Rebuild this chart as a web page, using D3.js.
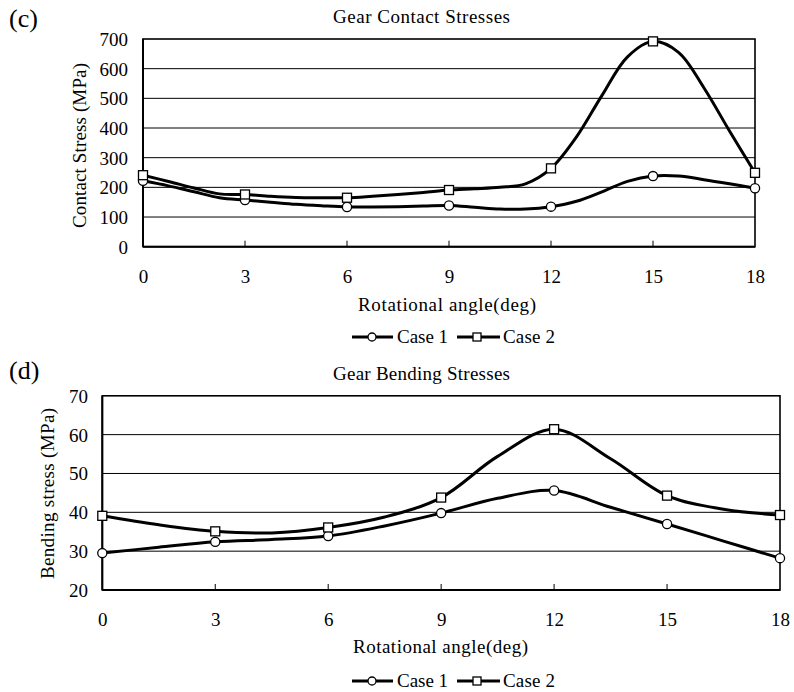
<!DOCTYPE html>
<html><head><meta charset="utf-8">
<script src="https://cdn.jsdelivr.net/npm/d3@7"></script>
<style>
html,body{margin:0;padding:0;background:#fff;}
text{font-family:"Liberation Serif","Times New Roman",serif;fill:#000;}
</style></head>
<body><svg id="c" width="794" height="692"></svg>
<script>
// ---- data ----
const fineAngles = [0,0.75,1.5,2.25,3,3.75,4.5,5.25,6,6.75,7.5,8.25,9,9.75,10.5,11.25,12,12.75,13.5,14.25,15,15.75,16.5,17.25,18];
const contactCase1 = [222,205,185,165,157,150,143,138,134,134,135,137,139,133,127,127,135,153,185,220,238,238,226,212,197];
const contactCase2 = [241,220,198,178,176,170,166,165,165,170,176,183,191,195,200,212,264,370,510,640,692,655,535,390,249];
const bendAngles = [0,1.5,3,4.5,6,7.5,9,10.5,12,13.5,15,16.5,18];
const bendCase1 = [29.5,31.0,32.4,33.0,33.9,36.5,39.8,43.6,45.6,41.3,37.0,32.6,28.2];
const bendCase2 = [39.1,36.8,35.1,34.7,36.1,38.8,43.8,54.4,61.4,53.8,44.3,40.8,39.3];
const markerAngles = [0,3,6,9,12,15,18];
const xTicks = [0,3,6,9,12,15,18];
const contactTicks = [0,100,200,300,400,500,600,700];
const bendTicks = [20,30,40,50,60,70];
const seriesNames = ["Case 1","Case 2"];

const svg = d3.select("#c");

function panel(o){
  const g = svg.append("g");
  const x = d3.scaleLinear().domain([0,18]).range([o.left,o.right]);
  const y = d3.scaleLinear().domain(o.ydom).range([o.bottom,o.top]);
  // gridlines
  g.append("g").selectAll("line").data(o.yticks.slice(1,-1)).join("line")
    .attr("x1",o.left).attr("x2",o.right).attr("y1",d=>y(d)).attr("y2",d=>y(d))
    .attr("stroke","#000").attr("stroke-width",1);
  // frame
  g.append("rect").attr("x",o.left).attr("y",o.top).attr("width",o.right-o.left).attr("height",o.bottom-o.top)
    .attr("fill","none").attr("stroke","#000").attr("stroke-width",1.6);
  g.append("line").attr("x1",o.left).attr("x2",o.left).attr("y1",o.top).attr("y2",o.bottom).attr("stroke","#000").attr("stroke-width",2);
  g.append("line").attr("x1",o.left).attr("x2",o.right).attr("y1",o.bottom).attr("y2",o.bottom).attr("stroke","#000").attr("stroke-width",2);
  // x axis labels
  const xa = d3.axisBottom(x).tickValues(xTicks).tickSize(0).tickPadding(0);
  const xg = g.append("g").attr("transform",`translate(0,${o.bottom})`).call(xa);
  xg.select(".domain").remove();
  xg.selectAll("text").attr("font-size",o.fs).attr("dy","0.34em").attr("y",o.xlabY).attr("font-family","Liberation Serif");
  // inward tick marks
  g.append("g").selectAll("line").data(xTicks.slice(1,-1)).join("line")
    .attr("x1",d=>x(d)).attr("x2",d=>x(d)).attr("y1",o.bottom).attr("y2",o.bottom-6)
    .attr("stroke","#000").attr("stroke-width",1);
  // y axis labels
  const ya = d3.axisLeft(y).tickValues(o.yticks).tickSize(0).tickPadding(0);
  const yg = g.append("g").attr("transform",`translate(${o.ylabX},0)`).call(ya);
  yg.select(".domain").remove();
  yg.selectAll("text").attr("font-size",o.fs).attr("x",0).attr("dy","0.34em").attr("font-family","Liberation Serif");
  // lines
  const line = d3.line().x(d=>x(d[0])).y(d=>y(d[1])).curve(d3.curveCatmullRom.alpha(0.5));
  o.series.forEach(s=>{
    g.append("path").datum(o.angles.map((a,i)=>[a,s[i]]))
      .attr("d",line).attr("fill","none").attr("stroke","#000").attr("stroke-width",3).attr("stroke-linejoin","round");
  });
  // markers
  const pick = s => markerAngles.map(a=>[a,s[o.angles.indexOf(a)]]);
  g.append("g").selectAll("circle").data(pick(o.series[0])).join("circle")
    .attr("cx",d=>x(d[0])).attr("cy",d=>y(d[1])).attr("r",4.6)
    .attr("fill","#fff").attr("stroke","#000").attr("stroke-width",1.3);
  g.append("g").selectAll("rect").data(pick(o.series[1])).join("rect")
    .attr("x",d=>x(d[0])-4.5).attr("y",d=>y(d[1])-4.5).attr("width",9).attr("height",9)
    .attr("fill","#fff").attr("stroke","#000").attr("stroke-width",1.3);
  // titles
  g.append("text").attr("x",333).attr("y",o.titleY).attr("font-size",19)
    .attr("textLength",177).attr("lengthAdjust","spacing").text(o.title);
  g.append("text").attr("x",9).attr("y",o.tagY).attr("font-size",26).text(o.tag);
  g.append("text").attr("x",o.axTitleX).attr("y",o.axTitleY).attr("dy","0.34em").attr("font-size",o.fs)
    .attr("textLength",o.axTitleLen).attr("lengthAdjust","spacing").text("Rotational angle(deg)");
  g.append("text").attr("transform",`translate(${o.yTitleX},${o.yTitleC}) rotate(-90)`)
    .attr("x",-o.yTitleLen/2).attr("dy","0.34em").attr("font-size",o.fs)
    .attr("textLength",o.yTitleLen).attr("lengthAdjust","spacing").text(o.ytitle);
  // legend
  const lg = g.append("g");
  lg.append("line").attr("x1",352).attr("x2",393).attr("y1",o.legY).attr("y2",o.legY).attr("stroke","#000").attr("stroke-width",3);
  lg.append("circle").attr("cx",372).attr("cy",o.legY).attr("r",4).attr("fill","#fff").attr("stroke","#000").attr("stroke-width",1.3);
  lg.append("text").attr("x",397).attr("y",o.legY).attr("dy","0.34em").attr("font-size",o.fs)
    .attr("textLength",51).attr("lengthAdjust","spacing").text(seriesNames[0]);
  lg.append("line").attr("x1",457).attr("x2",500).attr("y1",o.legY).attr("y2",o.legY).attr("stroke","#000").attr("stroke-width",3);
  lg.append("rect").attr("x",473).attr("y",o.legY-4).attr("width",8).attr("height",8).attr("fill","#fff").attr("stroke","#000").attr("stroke-width",1.3);
  lg.append("text").attr("x",503).attr("y",o.legY).attr("dy","0.34em").attr("font-size",o.fs)
    .attr("textLength",52).attr("lengthAdjust","spacing").text(seriesNames[1]);
}

panel({left:143,right:755,top:39,bottom:246.7,ydom:[0,700],yticks:contactTicks,
  angles:fineAngles,series:[contactCase1,contactCase2],fs:19,xlabY:30,ylabX:128,
  title:"Gear Contact Stresses",titleY:23,tag:"(c)",tagY:27,
  axTitleX:358,axTitleLen:178,axTitleY:305,yTitleX:80,yTitleC:145.5,yTitleLen:165,
  ytitle:"Contact Stress (MPa)",legY:337});
panel({left:102.3,right:780,top:395.8,bottom:590,ydom:[20,70],yticks:bendTicks,
  angles:bendAngles,series:[bendCase1,bendCase2],fs:19,xlabY:30,ylabX:88,
  title:"Gear Bending Stresses",titleY:380,tag:"(d)",tagY:379,
  axTitleX:353,axTitleLen:175,axTitleY:647,yTitleX:48,yTitleC:493.5,yTitleLen:171,
  ytitle:"Bending stress (MPa)",legY:681});
</script></body></html>
